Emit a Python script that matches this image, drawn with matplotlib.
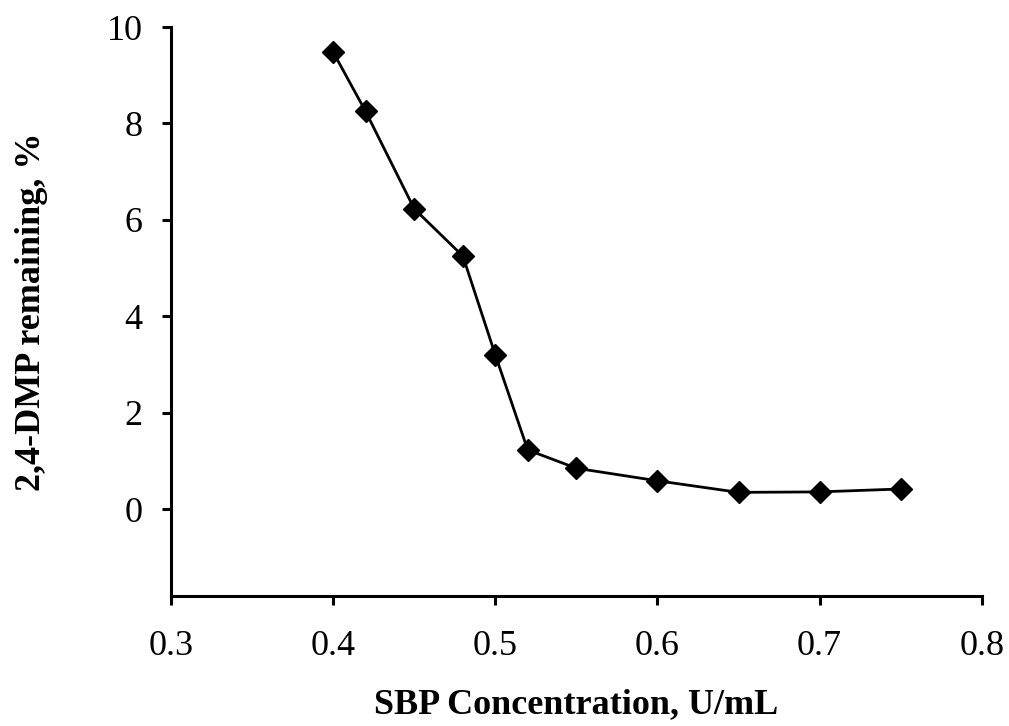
import matplotlib
matplotlib.use("Agg")
import matplotlib.pyplot as plt

# SBP enzyme concentration (U/mL) and residual 2,4-DMP (%)
concentration = [0.40, 0.42, 0.45, 0.48, 0.50, 0.52, 0.55, 0.60, 0.65, 0.70, 0.75]
remaining = [9.48, 8.25, 6.23, 5.25, 3.20, 1.23, 0.85, 0.59, 0.35, 0.36, 0.42]

x_ticks = [0.3, 0.4, 0.5, 0.6, 0.7, 0.8]
y_ticks = [0, 2, 4, 6, 8, 10]

plt.rcParams["font.family"] = ["Liberation Serif", "DejaVu Serif"]

fig = plt.figure(figsize=(10.09, 7.26), dpi=100)
ax = fig.add_axes([0.1695, 0.179, 0.8035, 0.7838])

ax.plot(concentration, remaining, color="black", linewidth=2.0,
        marker="D", markersize=11, markerfacecolor="black", markeredgecolor="black")

ax.set_xlim(0.3, 0.8)
ax.set_ylim(-1.8, 10)
ax.set_xticks(x_ticks)
ax.set_xticklabels([f"{v:.1f}" for v in x_ticks])
ax.set_yticks(y_ticks)
ax.set_yticklabels([str(v) for v in y_ticks])

for side in ("top", "right"):
    ax.spines[side].set_visible(False)
for side in ("left", "bottom"):
    ax.spines[side].set_linewidth(2.2)

ax.tick_params(axis="both", direction="out", length=6.5, width=2.2, labelsize=26)
ax.tick_params(axis="y", pad=14)
ax.tick_params(axis="x", pad=18)

ax.set_xlabel("SBP Concentration, U/mL", fontsize=26, fontweight="bold", labelpad=18)
ax.set_ylabel("2,4-DMP remaining, %", fontsize=26, fontweight="bold", labelpad=42)

fig.savefig("out.png", dpi=100)
